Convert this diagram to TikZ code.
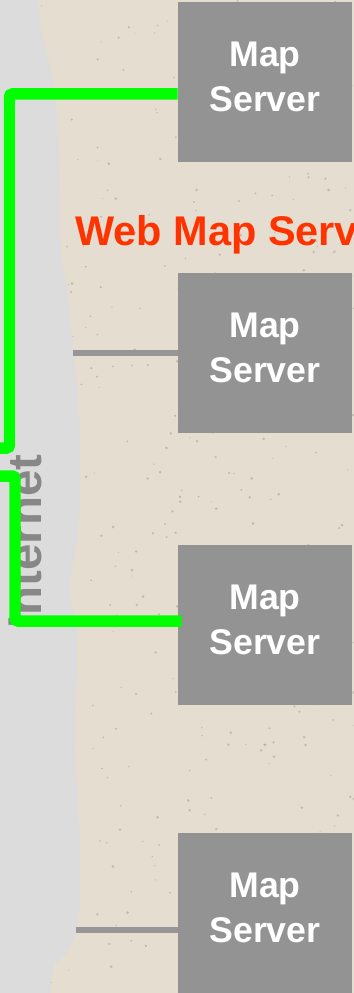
\documentclass[tikz,border=0pt]{standalone}
\usepackage{fontspec}
\setmainfont{Liberation Sans}

\definecolor{paper}{RGB}{228,221,208}
\definecolor{speck}{RGB}{120,105,85}
\definecolor{cloud}{RGB}{220,220,220}
\definecolor{boxgray}{RGB}{147,147,147}
\definecolor{linkgray}{RGB}{150,150,150}
\definecolor{wire}{RGB}{0,255,0}
\definecolor{headred}{RGB}{255,51,0}
\definecolor{netgray}{RGB}{135,135,135}

\begin{document}
\begin{tikzpicture}[x = 0.02cm, y = -0.02cm,
	server/.style = {rectangle, fill = boxgray, text = white, align = center,
		inner sep = 0pt, minimum width = 3.48cm, minimum height = 3.2cm,
		text depth = 6pt, font = \fontsize{20.3}{25.2}\selectfont\bfseries},
	link/.style = {draw = linkgray, line width = 0.11cm},
	uplink/.style = {draw = wire, line width = 0.23cm, rounded corners = 0.06cm}]

	\useasboundingbox (0, 0) rectangle (354, 993);
	\clip (0, 0) rectangle (354, 993);

	% Stone paper
	
	\fill [paper] (0, 0) rectangle (354, 993);
	\pgfmathsetseed{17}
	\foreach \i in {1, ..., 450}
		\fill [speck, opacity = 0.3] ({rnd*354}, {rnd*993}) circle [radius = {0.5 + rnd}];
	
	% Internet cloud strip
	
	\fill [cloud] (0, 0) -- plot [smooth, tension = 0.6] coordinates {
		(38, 0) (42, 33) (50, 67) (55, 100) (59, 150) (60, 200) (61, 250)
		(68, 300) (73, 350) (78, 400) (80, 450) (80, 500) (77, 540) (70, 590)
		(75, 620) (77, 650) (75, 750) (78, 800) (80, 850) (80, 900) (76, 930)
		(68, 950) (58, 962) (53, 968) (50, 993)} -- (0, 993) -- cycle;
	
	\node (net) [rotate = 90, anchor = base west, inner sep = 0pt, text = netgray,
		font = \fontsize{27}{30}\selectfont\bfseries] at (41, 629) {Internet};
	
	% Heading
	
	\node (wms) [anchor = base west, inner sep = 0pt, text = headred,
		font = \fontsize{23.6}{28}\selectfont\bfseries] at (75, 245) {Web Map Servers};
	
	% Map servers
	
	\node (srv1) [server] at (265, 82) {Map\\Server};
	\node (srv2) [server] at (265, 353) {Map\\Server};
	\node (srv3) [server] at (265, 625) {Map\\Server};
	\node (srv4) [server] at (265, 913) {Map\\Server};
	
	% Idle links to the cloud
	
	\coordinate (edge2) at (73, 353);
	\coordinate (edge4) at (76, 930);
	
	\draw [link] (edge2) -- (srv2);
	\draw [link] (edge4) -- (edge4 -| srv4.west);
	
	% Active links
	
	\coordinate (in1) at (0, 448);
	\coordinate (tap1) at (9.5, 94);
	\coordinate (in3) at (0, 476);
	\coordinate (tap3) at (15, 621);
	
	\draw [uplink] (in1) -| (tap1) -- (tap1 -| srv1.west);
	\draw [uplink] (in3) -| (tap3) -- ([xshift = 0.08cm] tap3 -| srv3.west);

\end{tikzpicture}
\end{document}
